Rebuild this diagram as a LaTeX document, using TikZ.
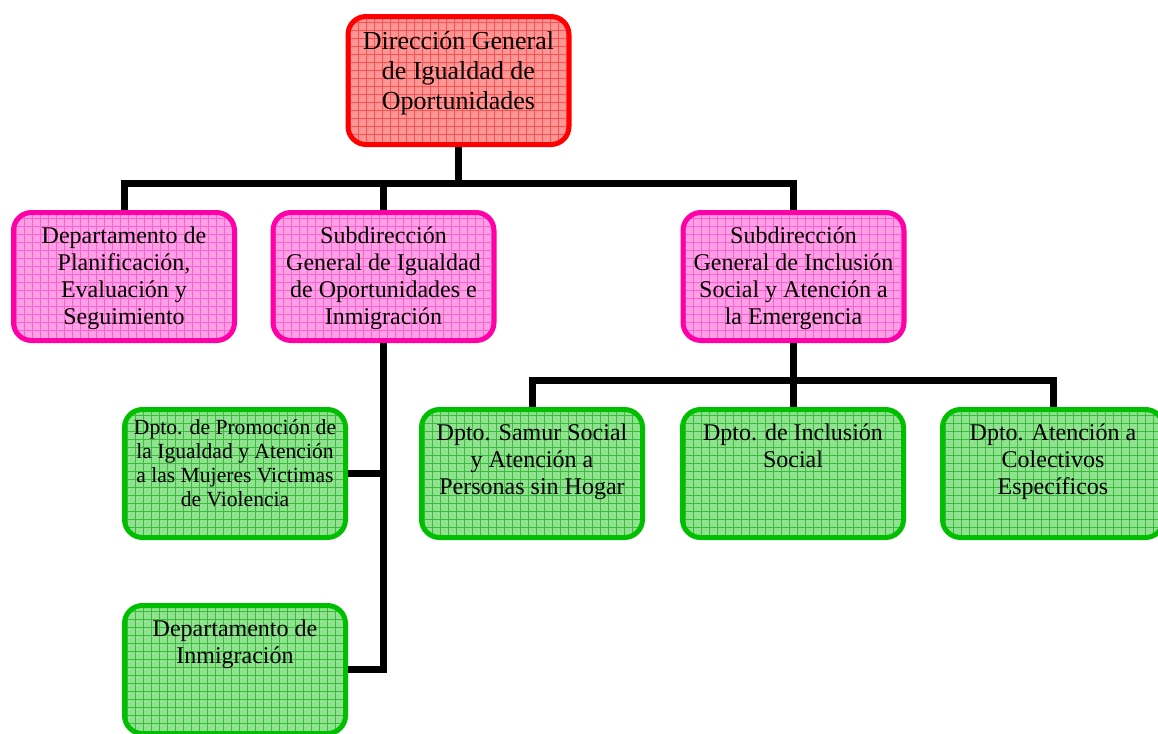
\documentclass[tikz,border=0pt]{standalone}
\usepackage{fontspec}
\setmainfont{Liberation Serif}
\definecolor{rojo}{HTML}{FF0000}
\definecolor{rojofill}{HTML}{FF9696}
\definecolor{rojogrid}{HTML}{FF5050}
\definecolor{rosa}{HTML}{FF00A8}
\definecolor{rosafill}{HTML}{FFA0E6}
\definecolor{rosagrid}{HTML}{FF60D2}
\definecolor{verde}{HTML}{00BE00}
\definecolor{verdefill}{HTML}{90E290}
\definecolor{verdegrid}{HTML}{3CBC3C}
\newcommand{\orgtxt}[1]{\parbox[c][52pt][t]{108pt}{\centering\strut #1}}
\begin{document}
\begin{tikzpicture}[x=0.5pt, y=-0.5pt,
      B/.style={draw, line width=2.5pt, rounded corners=9pt, inner sep=0pt,
        minimum width=110.5pt, minimum height=64pt, align=center,
        font=\fontsize{12}{13.5}\selectfont},
      R/.style={B, draw=rojo, fill=rojofill, font=\fontsize{13}{15}\selectfont,
        path picture={\draw[rojogrid, line width=0.3pt, step=4pt]
          (path picture bounding box.south west) grid (path picture bounding box.north east);}},
      P/.style={B, draw=rosa, fill=rosafill,
        path picture={\draw[rosagrid, line width=0.3pt, step=4pt]
          (path picture bounding box.south west) grid (path picture bounding box.north east);}},
      G/.style={B, draw=verde, fill=verdefill,
        path picture={\draw[verdegrid, line width=0.3pt, step=4pt]
          (path picture bounding box.south west) grid (path picture bounding box.north east);}},
      conn/.style={line width=3.5pt, black}
    ]
    \useasboundingbox (0,0) rectangle (1158,734);
    % direccion general
    \node [R] (dgio) at (458.5,80.5) {\orgtxt{Dirección General\\de Igualdad de\\Oportunidades}};
    % subdirecciones
    \node [P] (plan) at (124,276.5) {\orgtxt{Departamento de\\Planificación,\\Evaluación y\\Seguimiento}};
    \node [P] (sgio) at (383.5,276.5) {\orgtxt{Subdirección\\General de Igualdad\\de Oportunidades e\\Inmigración}};
    \node [P] (sgis) at (793.5,276.5) {\orgtxt{Subdirección\\General de Inclusión\\Social y Atención a\\la Emergencia}};
    % departamentos
    \node [G, font=\fontsize{10.8}{12}\selectfont] (dprom) at (235,473.5) {\parbox[c][56pt][t]{108pt}{\centering\strut Dpto. de Promoción de\\la Igualdad y Atención\\a las Mujeres Victimas\\de Violencia}};
    \node [G] (dinm) at (235,669.5) {\orgtxt{Departamento de\\Inmigración}};
    \node [G] (samur) at (532,473.5) {\orgtxt{Dpto. Samur Social\\y Atención a\\Personas sin Hogar}};
    \node [G] (incl) at (793,473.5) {\orgtxt{Dpto. de Inclusión\\Social}};
    \node [G] (colec) at (1053,473.5) {\orgtxt{Dpto. Atención a\\Colectivos\\Específicos}};
    % lineas
    \coordinate (bus1) at (458.5,183);
    \coordinate (bus2) at (793.5,380);
    \draw [conn] (dgio.south) -- (bus1);
    \draw [conn] (bus1) -| (plan.north);
    \draw [conn] (bus1) -| (sgio.north);
    \draw [conn] (bus1) -| (sgis.north);
    \draw [conn] (sgio.south) |- (dprom.east);
    \draw [conn] (sgio.south) |- (dinm.east);
    \draw [conn] (sgis.south) -- (bus2);
    \draw [conn] (bus2) -| (samur.north);
    \draw [conn] (bus2) -| (incl.north);
    \draw [conn] (bus2) -| (colec.north);
  \end{tikzpicture}
\end{document}
